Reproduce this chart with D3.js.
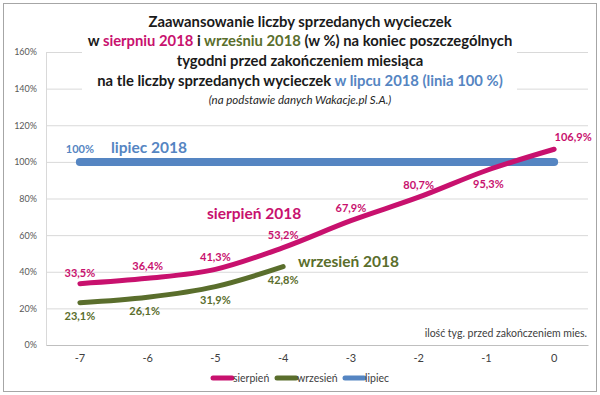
<!DOCTYPE html>
<html>
<head>
<meta charset="utf-8">
<script src="https://cdn.jsdelivr.net/npm/d3@7"></script>
<style>
  body { margin: 0; background: #fff; }
  text { font-family: Lato, "Open Sans", sans-serif; }
</style>
</head>
<body>
<div id="chart"></div>
<script>
var weeks = ['-7', '-6', '-5', '-4', '-3', '-2', '-1', '0']
var sierpien = [33.5, 36.4, 41.3, 53.2, 67.9, 80.7, 95.3, 106.9]
var wrzesien = [23.1, 26.1, 31.9, 42.8]
var lipiec = [100, 100, 100, 100, 100, 100, 100, 100]
var yTicks = [0, 20, 40, 60, 80, 100, 120, 140, 160]

var COLOR = {
  PINK: '#c8116e',
  GREEN: '#5a6e2c',
  BLUE: '#5585c2',
  GRID: '#d9d9d9',
  TEXT: '#404040'
}

var width = 600
var height = 395
var plot = { left: 46, right: 588, top: 52, bottom: 345 }

var svg = d3.select('#chart')
  .append('svg')
  .attr('width', width)
  .attr('height', height)

// outer frame
svg.append('rect')
  .attr('x', 3.5).attr('y', 3.5)
  .attr('width', 593).attr('height', 388)
  .attr('fill', '#fff')
  .attr('stroke', '#a6a6a6')

var x = d3.scaleBand()
  .domain(weeks)
  .range([plot.left, plot.right])

var y = d3.scaleLinear()
  .domain([0, 160])
  .range([plot.bottom, plot.top])

var cx = function (i) { return x(weeks[i]) + x.bandwidth() / 2 }

// grid
svg.append('g')
  .selectAll('line')
  .data(yTicks.slice(1))
  .enter()
  .append('line')
  .attr('x1', plot.left).attr('x2', plot.right)
  .attr('y1', d => y(d) + 0.5).attr('y2', d => y(d) + 0.5)
  .attr('stroke', COLOR.GRID)

// y axis labels
var yAxis = svg.append('g')
  .attr('transform', 'translate(' + plot.left + ',0)')
  .call(d3.axisLeft(y).tickValues(yTicks).tickFormat(d => d + '%').tickSize(0).tickPadding(9))
yAxis.select('.domain').attr('stroke', COLOR.GRID)
yAxis.selectAll('text').attr('font-size', 9).attr('fill', '#595959').attr('font-family', 'Lato, sans-serif')

// x axis
var xAxis = svg.append('g')
  .attr('transform', 'translate(0,' + plot.bottom + ')')
  .call(d3.axisBottom(x).tickSize(0).tickPadding(9))
xAxis.select('.domain').attr('stroke', '#bfbfbf')
xAxis.selectAll('text').attr('font-size', 11).attr('fill', COLOR.TEXT).attr('font-family', 'Lato, sans-serif')

svg.append('text')
  .attr('x', plot.right - 1).attr('y', 337)
  .attr('text-anchor', 'end')
  .attr('font-size', 10.5)
  .attr('fill', COLOR.TEXT)
  .text('ilość tyg. przed zakończeniem mies.')

// title box
svg.append('rect')
  .attr('x', 82).attr('y', 10)
  .attr('width', 435).attr('height', 105)
  .attr('fill', '#fff')

var title = svg.append('g').attr('font-weight', 'bold').attr('text-anchor', 'middle').attr('font-size', 14.8).attr('fill', '#1a1a1a')
title.append('text').attr('x', 300).attr('y', 27).text('Zaawansowanie liczby sprzedanych wycieczek')
var t2 = title.append('text').attr('x', 300).attr('y', 46)
t2.append('tspan').text('w ')
t2.append('tspan').attr('fill', COLOR.PINK).text('sierpniu 2018')
t2.append('tspan').text(' i ')
t2.append('tspan').attr('fill', COLOR.GREEN).text('wrześniu 2018')
t2.append('tspan').text(' (w %) na koniec poszczególnych')
title.append('text').attr('x', 300).attr('y', 66).text('tygodni przed zakończeniem miesiąca')
var t4 = title.append('text').attr('x', 300).attr('y', 86)
t4.append('tspan').text('na tle liczby sprzedanych wycieczek ')
t4.append('tspan').attr('fill', COLOR.BLUE).text('w lipcu 2018 (linia 100 %)')
svg.append('text')
  .attr('x', 300).attr('y', 104)
  .attr('text-anchor', 'middle')
  .attr('font-style', 'italic')
  .attr('font-size', 11.5)
  .attr('fill', '#262626')
  .text('(na podstawie danych Wakacje.pl S.A.)')

// lines
var line = d3.line()
  .x((d, i) => cx(i))
  .y(d => y(d))
  .curve(d3.curveMonotoneX)

svg.append('path')
  .datum(lipiec)
  .attr('d', line)
  .attr('fill', 'none')
  .attr('stroke', COLOR.BLUE)
  .attr('stroke-width', 8)
  .attr('stroke-linecap', 'round')

svg.append('path')
  .datum(sierpien)
  .attr('d', line)
  .attr('fill', 'none')
  .attr('stroke', COLOR.PINK)
  .attr('stroke-width', 5)
  .attr('stroke-linecap', 'round')

svg.append('path')
  .datum(wrzesien)
  .attr('d', line)
  .attr('fill', 'none')
  .attr('stroke', COLOR.GREEN)
  .attr('stroke-width', 5)
  .attr('stroke-linecap', 'round')

var fmt = d => d.toFixed(1).replace('.', ',') + '%'

// data labels
var sOff = [[0, -11], [0, -12], [0, -12], [0, -13], [0, -13], [0, -12], [2, 14], [19, -12]]
svg.append('g')
  .selectAll('text')
  .data(sierpien)
  .enter()
  .append('text')
  .attr('x', (d, i) => cx(i) + sOff[i][0])
  .attr('y', (d, i) => y(d) + sOff[i][1] + 4)
  .attr('text-anchor', 'middle')
  .attr('font-size', 11)
  .attr('font-weight', 'bold')
  .attr('fill', COLOR.PINK)
  .text(fmt)

var wOff = [[0, 13], [-3, 14], [0, 13], [0, 13]]
svg.append('g')
  .selectAll('text')
  .data(wrzesien)
  .enter()
  .append('text')
  .attr('x', (d, i) => cx(i) + wOff[i][0])
  .attr('y', (d, i) => y(d) + wOff[i][1] + 4)
  .attr('text-anchor', 'middle')
  .attr('font-size', 11)
  .attr('font-weight', 'bold')
  .attr('fill', COLOR.GREEN)
  .text(fmt)

svg.append('text')
  .attr('x', cx(0)).attr('y', y(lipiec[0]) - 9)
  .attr('text-anchor', 'middle')
  .attr('font-size', 11)
  .attr('font-weight', 'bold')
  .attr('fill', COLOR.BLUE)
  .text(lipiec[0] + '%')

// series names
var names = [
  { t: 'lipiec 2018', c: COLOR.BLUE, x: 111, y: 153 },
  { t: 'sierpień 2018', c: COLOR.PINK, x: 207, y: 219 },
  { t: 'wrzesień 2018', c: COLOR.GREEN, x: 298, y: 267 }
]
svg.append('g')
  .selectAll('text')
  .data(names)
  .enter()
  .append('text')
  .attr('x', d => d.x).attr('y', d => d.y)
  .attr('font-size', 15.5)
  .attr('font-weight', 'bold')
  .attr('fill', d => d.c)
  .text(d => d.t)

// legend
var legend = [
  { t: 'sierpień', c: COLOR.PINK, x: 213 },
  { t: 'wrzesień', c: COLOR.GREEN, x: 277 },
  { t: 'lipiec', c: COLOR.BLUE, x: 345 }
]
var lg = svg.append('g').selectAll('g').data(legend).enter().append('g')
lg.append('line')
  .attr('x1', d => d.x).attr('x2', d => d.x + 19)
  .attr('y1', 378).attr('y2', 378)
  .attr('stroke', d => d.c)
  .attr('stroke-width', 5)
  .attr('stroke-linecap', 'round')
lg.append('text')
  .attr('x', d => d.x + 20).attr('y', 382)
  .attr('font-size', 10.5)
  .attr('fill', COLOR.TEXT)
  .text(d => d.t)
</script>
</body>
</html>
